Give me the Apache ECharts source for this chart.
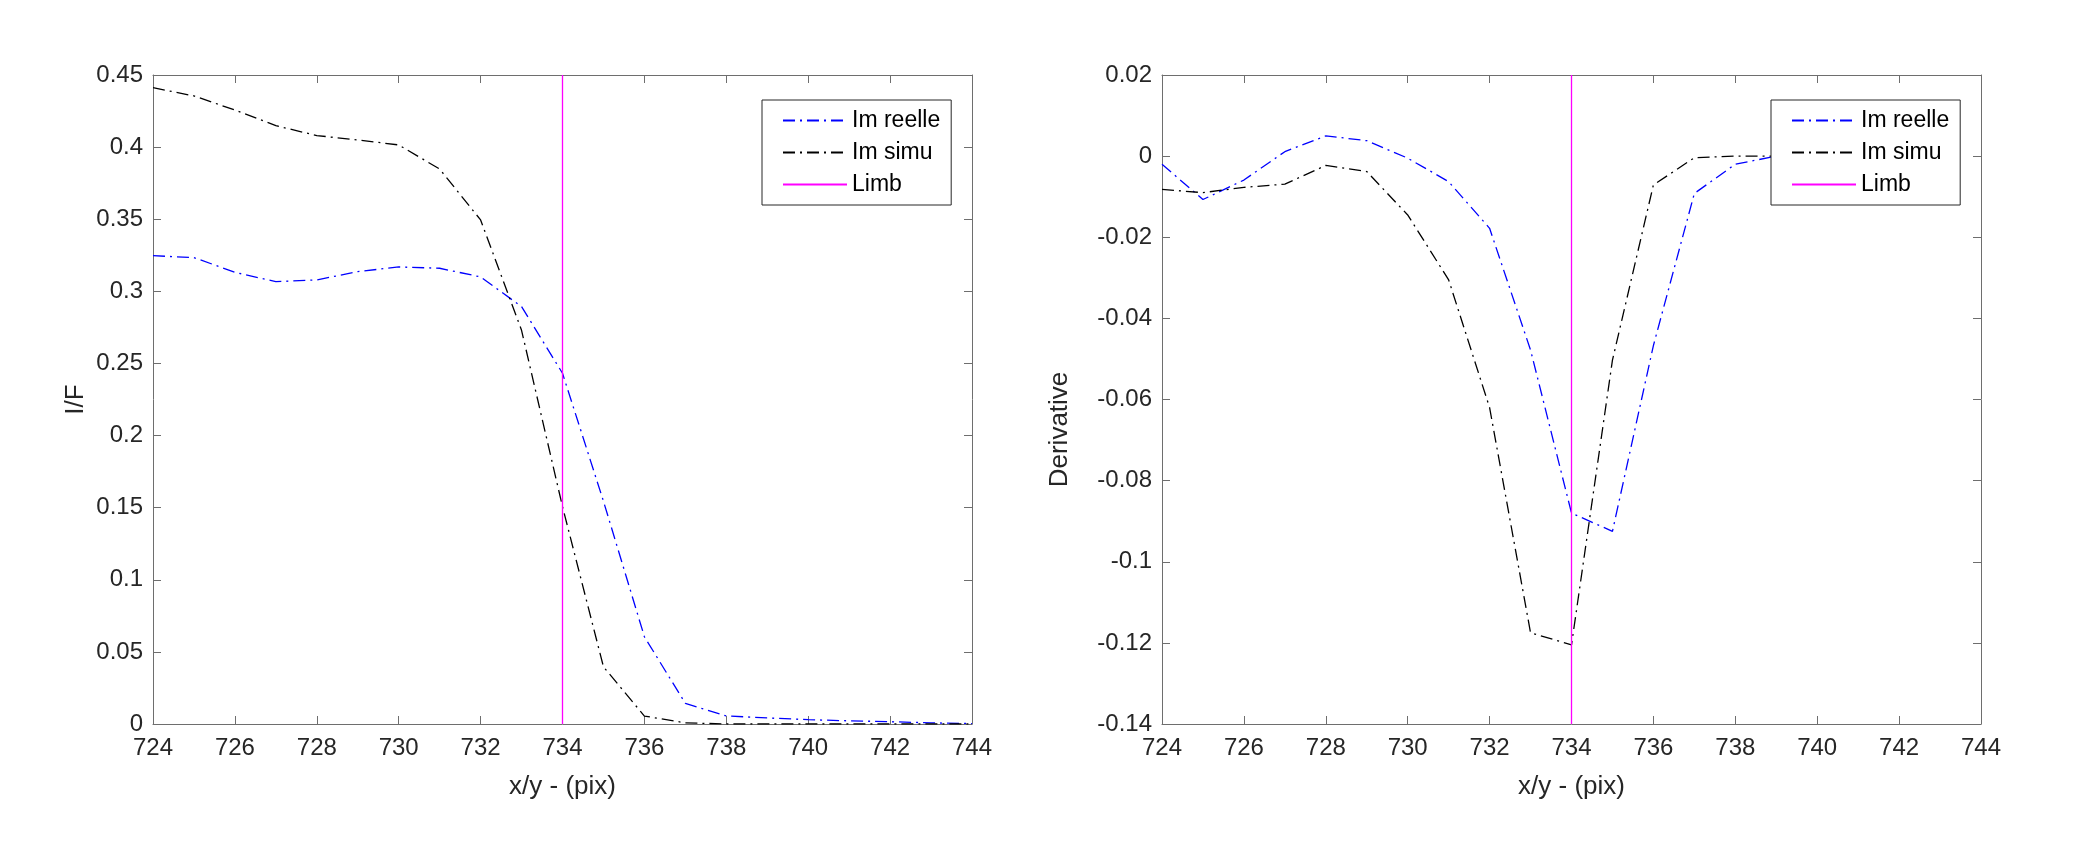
<!DOCTYPE html>
<html>
<head>
<meta charset="utf-8">
<title>Limb profile</title>
<script src="https://cdn.jsdelivr.net/npm/echarts@6/dist/echarts.min.js"></script>
<style>
    html, body { margin: 0; padding: 0; background: #fff; }
    #main { width: 2095px; height: 847px; }
</style>
</head>
<body>
<div id="main"></div>
<script type="text/javascript">
    // pixel positions along the cut
    var xPix = [724,725,726,727,728,729,730,731,732,733,734,735,736,737,738,739,740,741,742,743,744];
    // derivative is a forward difference, so one point less
    var xDer = [724,725,726,727,728,729,730,731,732,733,734,735,736,737,738,739,740,741,742,743];

    // I/F profiles
    var ifReelle = [0.3247,0.3234,0.3132,0.3067,0.3079,0.3137,0.3169,0.3160,0.3100,0.2894,0.2432,0.1545,0.0605,0.0143,0.0056,0.0042,0.0030,0.0022,0.0016,0.0008,0.0003];
    var ifSimu   = [0.4412,0.4355,0.4257,0.4149,0.4080,0.4050,0.4015,0.3848,0.3495,0.2730,0.1507,0.0397,0.0055,0.0008,0,0,0,0,0,0,0];

    // derivatives
    var dReelle = [-0.0020,-0.0107,-0.0059,0.0011,0.0050,0.0038,-0.0005,-0.0063,-0.0178,-0.0478,-0.0880,-0.0925,-0.0467,-0.0092,-0.0020,0,0,0,0,0];
    var dSimu   = [-0.0082,-0.0090,-0.0077,-0.0069,-0.0023,-0.0038,-0.0145,-0.0305,-0.0620,-0.1175,-0.1205,-0.0503,-0.0071,-0.0004,0,0,0,0,0,0];

    var limbX = 734;
    var ifRange = [0, 0.45];
    var dRange = [-0.14, 0.02];
    var legendNames = ['Im reelle', 'Im simu', 'Limb'];

    function pairs(xs, ys) {
        var out = [];
        for (var i = 0; i < xs.length; i++) out.push([xs[i], ys[i]]);
        return out;
    }

    var font = '"Liberation Sans", Arial, Helvetica, sans-serif';
    var txt = '#262626';
    var frame = '#6e6e6e';
    var dashDot = [12, 5, 2, 5];

    function xAx(grid, top) {
        return {
            type: 'value', gridIndex: grid, position: top ? 'top' : 'bottom',
            min: 724, max: 744, interval: 2,
            name: top ? '' : 'x/y - (pix)', nameLocation: 'middle', nameGap: 50,
            nameTextStyle: { fontFamily: font, fontSize: 26, color: txt },
            axisLine: { show: true, onZero: false, lineStyle: { color: frame, width: 1 } },
            axisTick: { show: true, inside: true, length: 8, lineStyle: { color: frame } },
            axisLabel: { show: !top, margin: 12, fontFamily: font, fontSize: 24, color: txt },
            splitLine: { show: false }
        };
    }

    function yAx(grid, right, range, step, name, gap, shift) {
        return {
            type: 'value', gridIndex: grid, position: right ? 'right' : 'left',
            min: range[0], max: range[1], interval: step,
            name: right ? '' : name, nameLocation: 'middle', nameGap: gap, nameRotate: 90,
            nameTextStyle: { fontFamily: font, fontSize: 26, color: txt, padding: [0, shift || 0, 0, 0] },
            axisLine: { show: true, onZero: false, lineStyle: { color: frame, width: 1 } },
            axisTick: { show: true, inside: true, length: 8, lineStyle: { color: frame } },
            axisLabel: { show: !right, margin: 10, fontFamily: font, fontSize: 24, color: txt },
            splitLine: { show: false }
        };
    }

    function legendAt(left) {
        return {
            left: left, top: 100, orient: 'vertical',
            data: legendNames,
            backgroundColor: '#fff', borderColor: '#262626', borderWidth: 1, borderRadius: 0,
            padding: [9, 11, 9, 20],
            itemWidth: 64, itemHeight: 10, itemGap: 9,
            itemStyle: { opacity: 0 },
            textStyle: { fontFamily: font, fontSize: 23, color: '#000', lineHeight: 22 },
            selectedMode: false
        };
    }

    function curve(name, data, color, xi, yi) {
        return {
            name: name, type: 'line', xAxisIndex: xi, yAxisIndex: yi,
            data: data, symbol: 'none', showSymbol: false, smooth: false,
            lineStyle: { color: color, width: 1.3, type: dashDot },
            itemStyle: { color: color },
            silent: true, animation: false
        };
    }

    function limb(range, xi, yi) {
        return {
            name: 'Limb', type: 'line', xAxisIndex: xi, yAxisIndex: yi,
            data: [[limbX, range[0]], [limbX, range[1]]],
            symbol: 'none', showSymbol: false,
            lineStyle: { color: '#ff00ff', width: 1.3, type: 'solid' },
            itemStyle: { color: '#ff00ff' },
            silent: true, animation: false
        };
    }

    var chart = echarts.init(document.getElementById('main'));
    var option = {
        backgroundColor: '#fff',
        animation: false,
        grid: [
            { left: 153, top: 75, width: 819, height: 649 },
            { left: 1162, top: 75, width: 819, height: 649 }
        ],
        xAxis: [xAx(0, false), xAx(0, true), xAx(1, false), xAx(1, true)],
        yAxis: [
            yAx(0, false, ifRange, 0.05, 'I/F', 64, 0),
            yAx(0, true, ifRange, 0.05, '', 0, 0),
            yAx(1, false, dRange, 0.02, 'Derivative', 89, 60),
            yAx(1, true, dRange, 0.02, '', 0, 0)
        ],
        legend: [legendAt(762), legendAt(1771)],
        series: [
            curve('Im reelle', pairs(xPix, ifReelle), '#0000ff', 0, 0),
            curve('Im simu', pairs(xPix, ifSimu), '#000000', 0, 0),
            limb(ifRange, 0, 0),
            curve('Im reelle', pairs(xDer, dReelle), '#0000ff', 2, 2),
            curve('Im simu', pairs(xDer, dSimu), '#000000', 2, 2),
            limb(dRange, 2, 2)
        ]
    };
    chart.setOption(option);
</script>
</body>
</html>
